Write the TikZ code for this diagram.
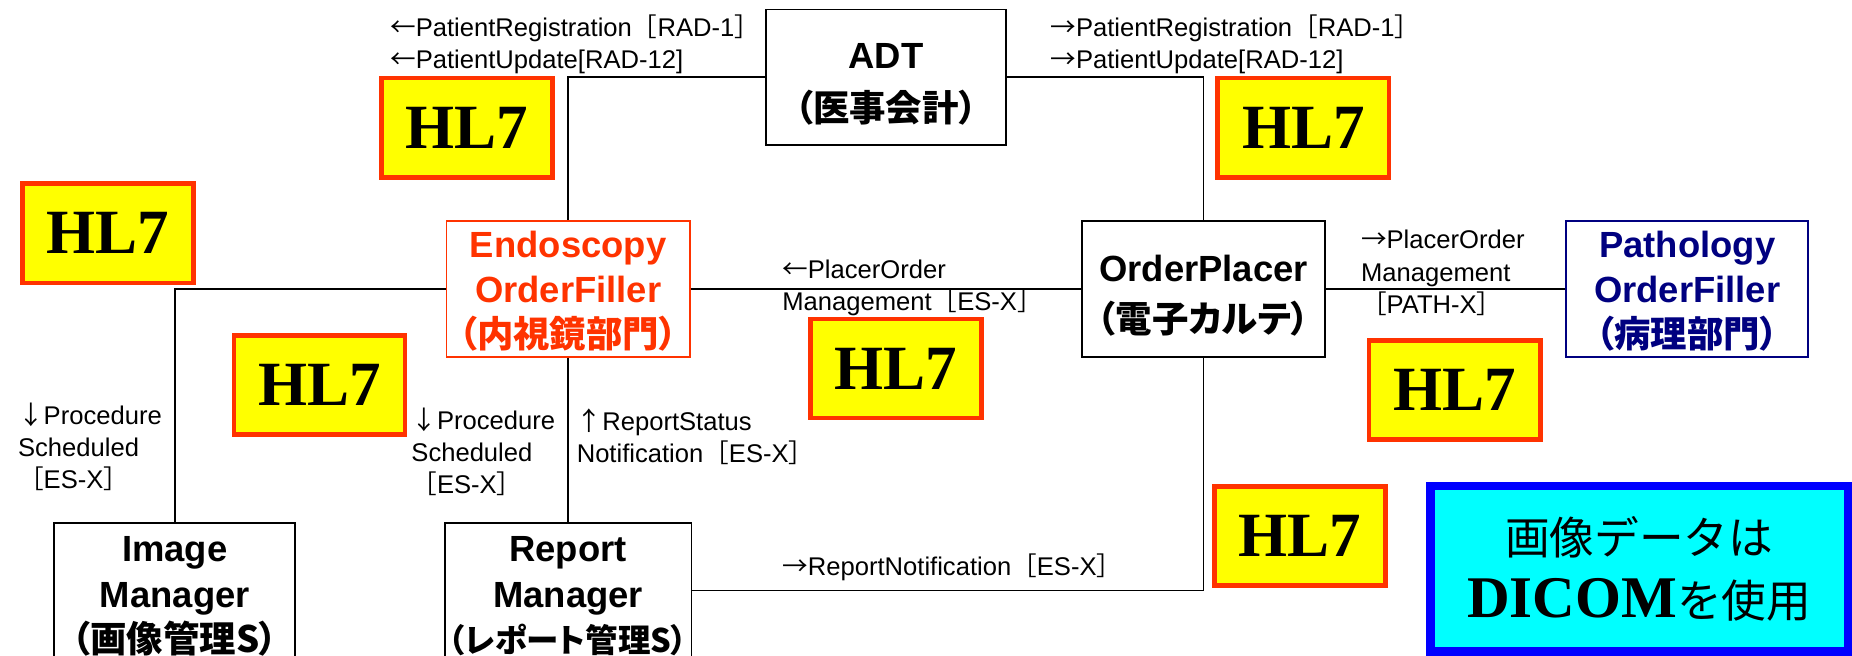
\documentclass[tikz,border=0pt]{standalone}
\usepackage{fontspec}
\setmainfont{Liberation Sans}
\newfontfamily\jp{Noto Sans CJK JP}
\newfontfamily\jpbox[RawFeature=+palt]{Noto Sans CJK JP}
\newfontfamily\hlserif{Liberation Serif}
\usepackage{tikz}
\usetikzlibrary{arrows.meta,positioning,calc}
\definecolor{hlborder}{HTML}{FF3300}
\definecolor{hlfill}{HTML}{FFFF00}
\definecolor{endoscopy}{HTML}{FF3300}
\definecolor{pathology}{HTML}{000080}
\definecolor{dicomline}{HTML}{0000FF}
\definecolor{dicomfill}{HTML}{00FFFF}
\newcommand{\jl}[1]{{\jp #1}}
\newcommand{\jb}[2][18.5]{{\jpbox\fontsize{#1}{23}\selectfont #2}}

\begin{document}
\begin{tikzpicture}[
  x=0.6pt,y=-0.6pt,
  bx/.style={draw,line width=0.9pt,align=center,inner sep=2pt,minimum height=69pt,
    font=\fontsize{18.5}{23}\selectfont\bfseries},
  hl/.style={draw=hlborder,fill=hlfill,line width=2.4pt,minimum width=87pt,minimum height=50.4pt,
    font=\hlserif\fontsize{32}{32}\selectfont\bfseries},
  lbl/.style={anchor=west,align=left,inner sep=0pt,font=\fontsize{13}{16.3}\selectfont},
  ln/.style={line width=0.9pt}
]
\useasboundingbox (0,0) rectangle (1568,555);
\clip (0,0) rectangle (1568,555);

\node[bx,minimum width=121.8pt] (adt) at (750,65.5) {\rule{0pt}{19.5pt}ADT\\[4pt]\jb{（医事会計）}};
\node[bx,draw=endoscopy,text=endoscopy,minimum width=123.6pt] (endo) at (481,244.5) {\rule{0pt}{16pt}Endoscopy\\OrderFiller\\\jb{（内視鏡部門）}};
\node[bx,minimum width=123.6pt] (placer) at (1019,244.5) {\rule{0pt}{20pt}OrderPlacer\\[3pt]\jb{（電子カルテ）}};
\node[bx,draw=pathology,text=pathology,minimum width=123pt] (patho) at (1428.5,244.5) {\rule{0pt}{16pt}Pathology\\OrderFiller\\\jb{（病理部門）}};
\node[bx,anchor=north,minimum width=122.4pt,inner xsep=2pt,inner ysep=7pt] (imgmgr) at (148,442) {Image\\Manager\\\jb{（画像管理S）}};
\node[bx,anchor=north,minimum width=123.6pt,inner xsep=2pt,inner ysep=7pt] (repmgr) at (481,442) {Report\\Manager\\\jb[16.5]{（レポート管理S）}};

\node[hl] (hlA) at (395.5,108) {HL7};
\node[hl] (hlB) at (1103.5,108) {HL7};
\node[hl] (hlC) at (91.5,197.5) {HL7};
\node[hl] (hlD) at (270.5,326) {HL7};
\node[hl] (hlE) at (758.5,312) {HL7};
\node[hl] (hlF) at (1231.5,330) {HL7};
\node[hl] (hlG) at (1100.5,454) {HL7};

\node[draw=dicomline,fill=dicomfill,line width=4.2pt,minimum width=212pt,minimum height=84pt,align=center,
  font=\jp\fontsize{22.7}{32}\selectfont]
  (dicom) at (1387.75,481.5) {画像データは\\{\hlserif\bfseries\fontsize{30}{32}\selectfont DICOM}を使用};

\node[lbl] (regL) at (330,37.5) {\jl{←}PatientRegistration\jl{［}RAD-1\jl{］}\\\jl{←}PatientUpdate[RAD-12]};
\node[lbl] (regR) at (889,37.5) {\jl{→}PatientRegistration\jl{［}RAD-1\jl{］}\\\jl{→}PatientUpdate[RAD-12]};
\node[lbl] (pomL) at (662,243.5) {\jl{←}PlacerOrder\\Management\jl{［}ES-X\jl{］}};
\node[lbl] (pomR) at (1152,231) {\jl{→}PlacerOrder\\Management\\\jl{［}PATH-X\jl{］}};
\node[lbl] (psL) at (15,378.5) {\jl{↓}Procedure\\Scheduled\\\jl{［}ES-X\jl{］}};
\node[lbl] (psM) at (348,382.5) {\jl{↓}Procedure\\Scheduled\\\jl{［}ES-X\jl{］}};
\node[lbl] (rsn) at (488,369.5) {\jl{↑}ReportStatus\\Notification\jl{［}ES-X\jl{］}};
\node[lbl] (rn) at (662,480) {\jl{→}ReportNotification\jl{［}ES-X\jl{］}};

\draw[ln] (adt.west) -| (endo.north);
\draw[ln] (adt.east) -| (placer.north);
\draw[ln] (endo.west) -| (imgmgr.north);
\draw[ln] (endo.east) -- (placer.west);
\draw[ln] (placer.east) -- (patho.west);
\draw[ln] (endo.south) -- (repmgr.north);
\draw[ln] (placer.south) |- ([yshift=-34.8pt]repmgr.north east);
\end{tikzpicture}
\end{document}
